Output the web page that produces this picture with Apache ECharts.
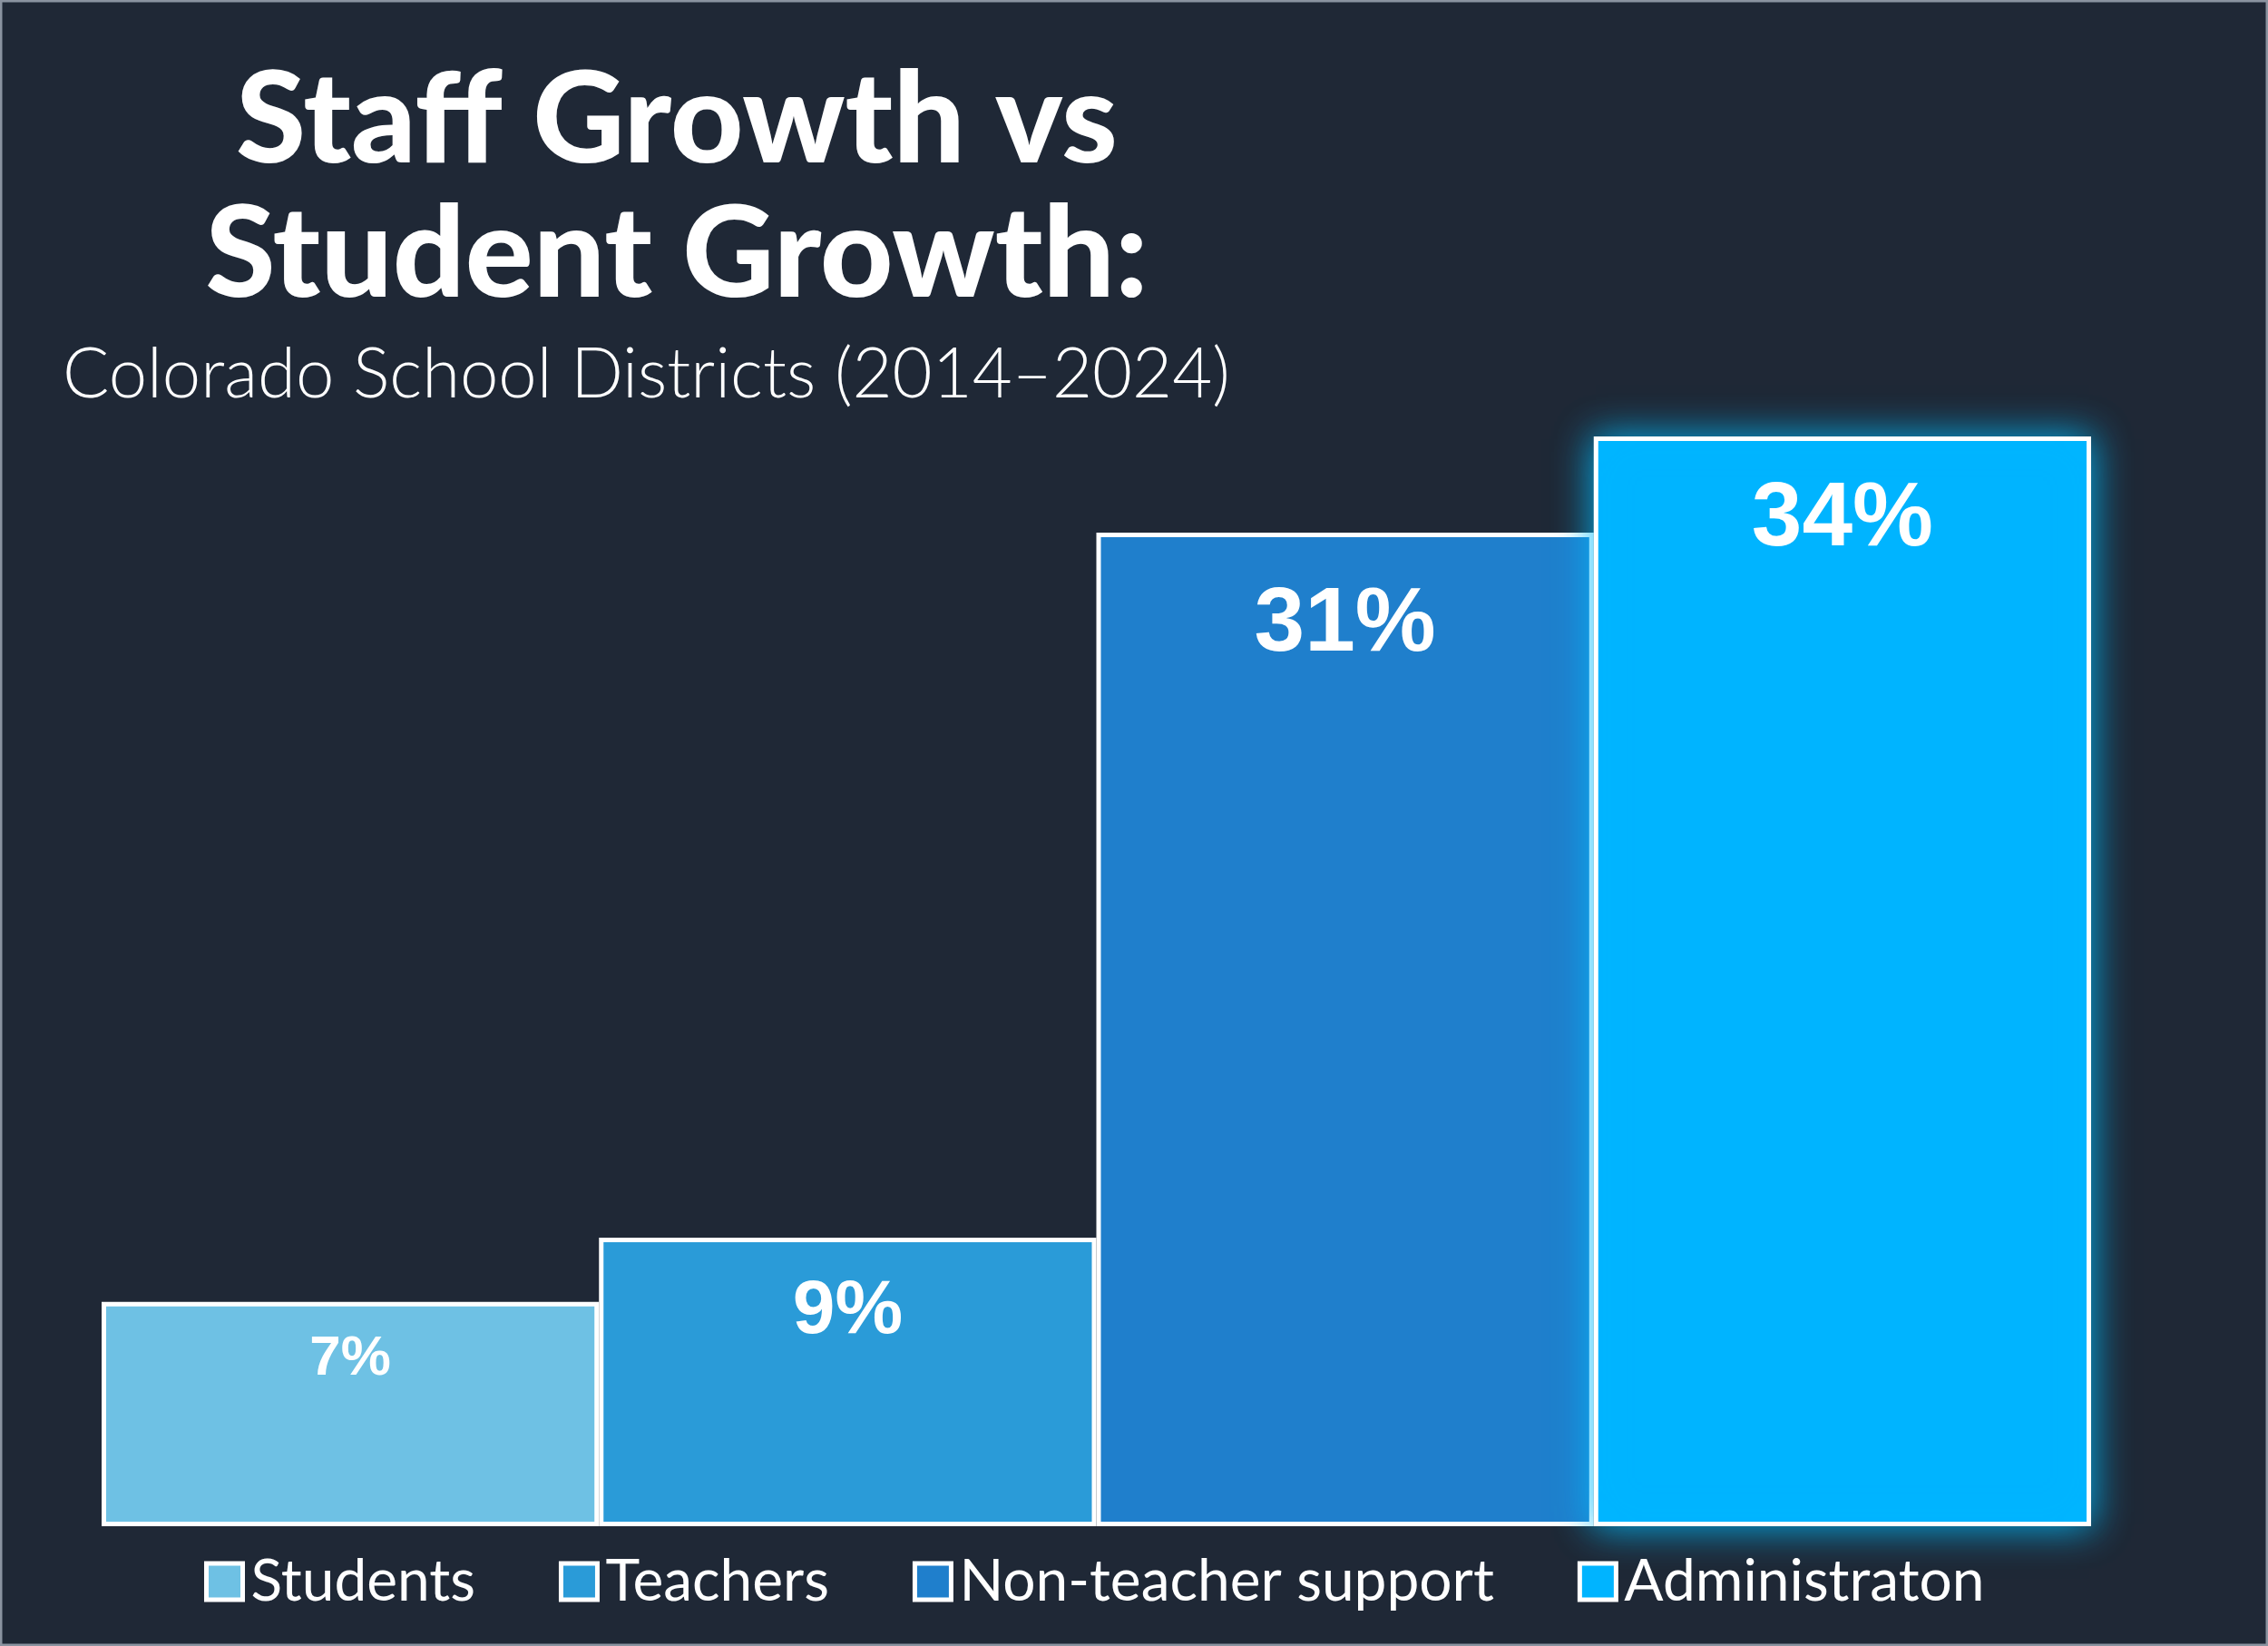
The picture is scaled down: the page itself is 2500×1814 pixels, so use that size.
<!DOCTYPE html>
<html><head><meta charset="utf-8">
<script src="https://cdn.jsdelivr.net/npm/echarts@6/dist/echarts.min.js"></script>
<style>html,body{margin:0;background:#1f2836}#c{width:2500px;height:1814px}</style>
</head><body><div id="c"></div>
<script>
var categories = ['Students', 'Teachers', 'Non-teacher support', 'Administraton'];
var values = [7, 9, 31, 34];
var colors = ['#6ec1e4', '#2a9bd8', '#1f7fcc', '#00b4ff'];
var labelSizes = [62, 84, 100, 100];
var labelOffsets = [32, 40, 52, 42];

var chart = echarts.init(document.getElementById('c'));
var series = categories.map(function (name, i) {
    var d = values.map(function (v, j) { return j === i ? v : '-'; });
    return {
        name: name, type: 'bar', stack: 'all', data: d,
        barCategoryGap: 0,
        itemStyle: {
            color: colors[i], borderColor: '#ffffff', borderWidth: 5,
            shadowBlur: i === 3 ? 40 : 0, shadowColor: 'rgba(0,190,255,0.9)'
        },
        label: {
            show: true, position: 'insideTop', distance: labelOffsets[i],
            formatter: '{c}%', color: '#ffffff', fontFamily: 'Liberation Sans',
            fontWeight: 'bold', fontSize: labelSizes[i]
        },
        z: i === 3 ? 3 : 2
    };
});
var option = {
    backgroundColor: '#1f2836',
    title: [{
        text: 'Staff Growth vs\nStudent Growth:',
        left: 741, top: 55, textAlign: 'center',
        textStyle: { color: '#fff', fontFamily: 'Lato', fontWeight: 900, fontSize: 140, lineHeight: 148 }
    }, {
        text: 'Colorado School Districts (2014\u20132024)',
        left: 64, top: 370,
        textStyle: { color: '#fff', fontFamily: 'Lato', fontWeight: 300, fontSize: 76 }
    }],
    legend: {
        left: 220, top: 1706, itemGap: 92, itemWidth: 40, itemHeight: 40,
        icon: 'rect',
        itemStyle: { borderColor: '#fff', borderWidth: 5 },
        textStyle: { color: '#fff', fontFamily: 'Lato', fontSize: 64, padding: [0, 0, 0, 4] },
        data: categories
    },
    grid: { left: 112, right: 195, top: 481, bottom: 132 },
    xAxis: { type: 'category', data: categories, show: false },
    yAxis: { type: 'value', min: 0, max: 34, show: false },
    graphic: [{ type: 'rect', shape: { x: 1, y: 1, width: 2498, height: 1812 },
        style: { fill: 'none', stroke: '#8a93a0', lineWidth: 3 } }],
    series: series
};
chart.setOption(option);
</script></body></html>
